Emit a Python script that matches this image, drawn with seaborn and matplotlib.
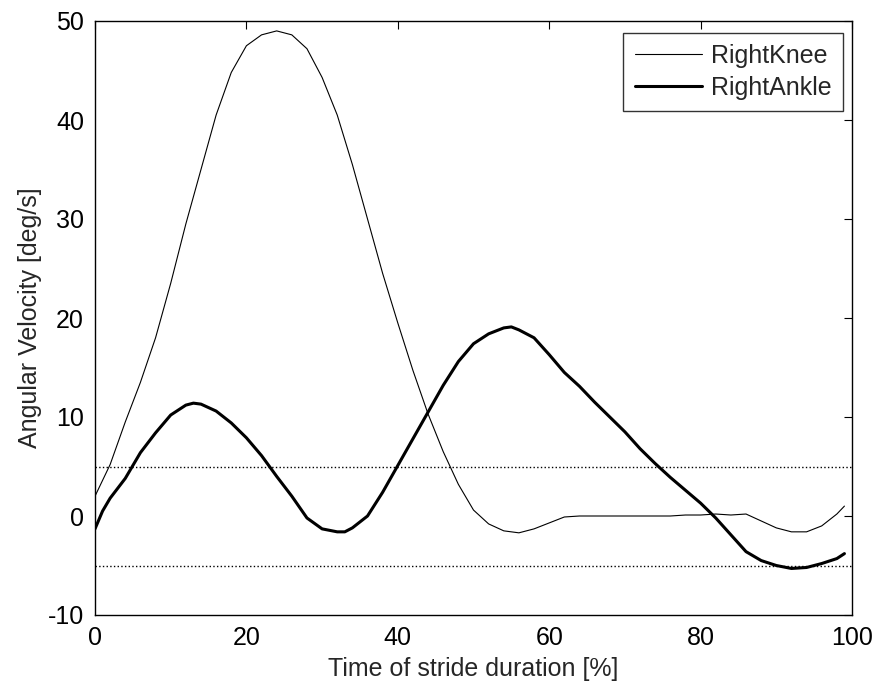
import numpy as np
import pandas as pd
import seaborn as sns
import matplotlib.pyplot as plt

# stride percentage and angular velocity
knee_t = [0, 2, 4, 6, 8, 10, 12, 14, 16, 18, 20, 22, 24, 26, 28, 30, 32, 34, 36, 38,
          40, 42, 44, 46, 48, 50, 52, 54, 56, 58, 60, 62, 64, 66, 68, 70, 72, 74, 76,
          78, 80, 82, 84, 86, 88, 90, 92, 94, 96, 98, 99]
knee_v = [2.0, 5.2, 9.5, 13.5, 18.0, 23.5, 29.5, 35.0, 40.5, 44.8, 47.5, 48.6, 49.0,
          48.6, 47.2, 44.3, 40.5, 35.5, 30.0, 24.5, 19.5, 14.7, 10.3, 6.5, 3.2, 0.6,
          -0.8, -1.5, -1.7, -1.3, -0.7, -0.1, 0.0, 0.0, 0.0, 0.0, 0.0, 0.0, 0.0,
          0.1, 0.1, 0.2, 0.1, 0.2, -0.5, -1.2, -1.6, -1.6, -1.0, 0.2, 1.0]

ankle_t = [0, 1, 2, 4, 6, 8, 10, 12, 13, 14, 16, 18, 20, 22, 24, 26, 28, 30, 32, 33,
           34, 36, 38, 40, 42, 44, 46, 48, 50, 52, 54, 55, 56, 58, 60, 62, 64, 66, 68,
           70, 72, 74, 76, 78, 80, 82, 84, 86, 88, 90, 92, 94, 96, 98, 99]
ankle_v = [-1.3, 0.5, 1.8, 3.8, 6.4, 8.4, 10.2, 11.2, 11.4, 11.3, 10.6, 9.4, 7.9, 6.1,
           4.0, 2.0, -0.2, -1.3, -1.6, -1.6, -1.2, 0.0, 2.4, 5.1, 7.8, 10.5, 13.2,
           15.6, 17.4, 18.4, 19.0, 19.1, 18.8, 18.0, 16.3, 14.5, 13.1, 11.5, 10.0,
           8.5, 6.8, 5.3, 3.9, 2.6, 1.3, -0.2, -1.9, -3.6, -4.5, -5.0, -5.3, -5.2,
           -4.8, -4.3, -3.8]

threshold = [5, -5]

sns.set_style("white")
plt.rcParams['font.family'] = ['Liberation Sans', 'DejaVu Sans']
plt.rcParams['axes.unicode_minus'] = False
fs = 18

fig = plt.figure(figsize=(8.73, 6.87), dpi=100)
ax = fig.add_axes([95 / 873, 1 - 615 / 687, (852 - 95) / 873, (615 - 21) / 687])

sns.lineplot(x=knee_t, y=knee_v, ax=ax, color='black', linewidth=0.8, label='RightKnee')
sns.lineplot(x=ankle_t, y=ankle_v, ax=ax, color='black', linewidth=2.2, label='RightAnkle')
for th in threshold:
    ax.axhline(th, color='black', linestyle=':', linewidth=1.0)

ax.set_xlim(0, 100)
ax.set_ylim(-10, 50)
ax.set_xticks(range(0, 101, 20))
ax.set_yticks(range(-10, 51, 10))
ax.tick_params(direction='in', top=True, right=True, length=6, labelsize=fs,
               color='black', labelcolor='black', pad=8)
for s in ax.spines.values():
    s.set_color('black')
    s.set_linewidth(1.0)
ax.set_xlabel("Time of stride duration [%]", fontsize=fs, labelpad=5)
ax.set_ylabel("Angular Velocity [deg/s]", fontsize=fs, labelpad=4)

leg = ax.legend(loc='upper right', bbox_to_anchor=(0.988, 0.980), fontsize=fs,
                frameon=True, fancybox=False, edgecolor='black', handlelength=2.7,
                borderaxespad=0, borderpad=0.45, labelspacing=0.3, handletextpad=0.36)
leg.get_frame().set_linewidth(1.0)

fig.savefig('out.png', dpi=100)
